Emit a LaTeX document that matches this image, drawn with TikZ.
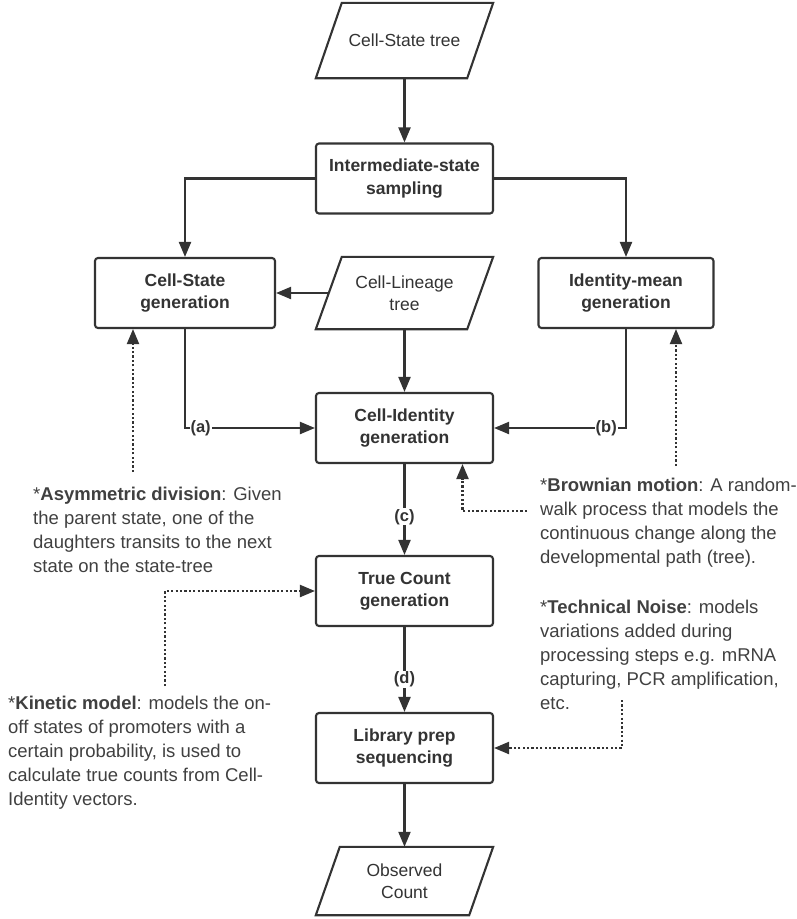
\documentclass[tikz,border=0pt]{standalone}
\usepackage{fontspec}
\setmainfont{Liberation Sans}
\usetikzlibrary{arrows.meta}
\definecolor{ink}{HTML}{333333}
\definecolor{notecol}{HTML}{404040}
\begin{document}
\begin{tikzpicture}[x=1pt,y=-1pt,
 box/.style={draw=ink, line width=2.1pt, rounded corners=3pt, minimum width=177pt, minimum height=70pt, align=center, font=\fontsize{17.5}{22.5}\selectfont\bfseries, text=ink, inner sep=0pt, fill=white},
 para/.style={minimum width=177pt, minimum height=75pt, align=center, font=\fontsize{17.5}{22.5}\selectfont, text=ink, inner sep=0pt},
 pline/.style={draw=ink, line width=2.1pt, line join=miter},
 conn/.style={draw=ink, line width=2.1pt, -{Triangle[length=15pt,width=12pt]}},
 dots/.style={conn, dash pattern=on 2.2pt off 2.2pt},
 lab/.style={fill=white, font=\fontsize{16.5}{18}\selectfont\bfseries, text=ink, inner sep=1pt},
 note/.style={align=left, anchor=base west, font=\fontsize{18.5}{24}\selectfont, text=notecol, inner sep=0pt}
]
\useasboundingbox (0,0) rectangle (796,919);

% parallelogram nodes
\node[para] (cst) at (404.5,40.5) {Cell-State tree};
\draw[pline] ([xshift=26]cst.north west) -- (cst.north east) -- ([xshift=-26]cst.south east) -- (cst.south west) -- cycle;

\node[para, minimum height=72pt] (clt) at (404.5,293) {Cell-Lineage\\tree};
\draw[pline] ([xshift=26]clt.north west) -- (clt.north east) -- ([xshift=-26]clt.south east) -- (clt.south west) -- cycle;

\node[para, minimum height=68pt] (oc) at (404.5,881) {Observed\\Count};
\draw[pline] ([xshift=24]oc.north west) -- (oc.north east) -- ([xshift=-24]oc.south east) -- (oc.south west) -- cycle;

% boxes
\node[box] (iss) at (404.5,178.5) {Intermediate-state\\sampling};
\node[box, minimum width=180pt] (csg) at (185,293) {Cell-State\\generation};
\node[box, minimum width=175pt] (img) at (626,293) {Identity-mean\\generation};
\node[box] (cig) at (404.5,428) {Cell-Identity\\generation};
\node[box] (tcg) at (404.5,591) {True Count\\generation};
\node[box] (lps) at (404.5,748) {Library prep\\sequencing};

% notes (base = baseline of last line)
\node[note] (nasym) at (33,572) {*\textbf{Asymmetric division}: Given\\the parent state, one of the\\daughters transits to the next\\state on the state-tree};
\node[note] (nbrown) at (540,563) {*\textbf{Brownian motion}: A random-\\walk process that models the\\continuous change along the\\developmental path (tree).};
\node[note] (ntech) at (540,709) {*\textbf{Technical Noise}: models\\variations added during\\processing steps e.g. mRNA\\capturing, PCR amplification,\\etc.};
\node[note] (nkin) at (8,805) {*\textbf{Kinetic model}: models the on-\\off states of promoters with a\\certain probability, is used to\\calculate true counts from Cell-\\Identity vectors.};

% solid connectors
\draw[conn] (cst.south) -- (iss.north);
\draw[conn] (iss.west) -| (csg.north);
\draw[conn] (iss.east) -| (img.north);
\draw[conn] ([xshift=13]clt.west) -- (csg.east);
\draw[conn] (clt.south) -- (cig.north);
\draw[conn] (csg.south) |- node[lab,pos=0.56]{(a)} (cig.west);
\draw[conn] (img.south) |- node[lab,pos=0.575]{(b)} (cig.east);
\draw[conn] (cig.south) -- node[lab,pos=0.58]{(c)} (tcg.north);
\draw[conn] (tcg.south) -- node[lab,pos=0.62]{(d)} (lps.north);
\draw[conn] (lps.south) -- (oc.north);

% dotted connectors
\coordinate (pa) at (133,472);
\coordinate (pb) at (676,466);
\coordinate (pc) at (527,511);
\coordinate (pd) at (165,686);
\coordinate (pe) at (622,700);
\draw[dots] (pa) -- (pa |- csg.south);
\draw[dots] (pb) -- (pb |- img.south);
\draw[dots] (pc) -| ([xshift=58]cig.south);
\draw[dots] (pd) |- (tcg.west);
\draw[dots] (pe) |- (lps.east);
\end{tikzpicture}
\end{document}
